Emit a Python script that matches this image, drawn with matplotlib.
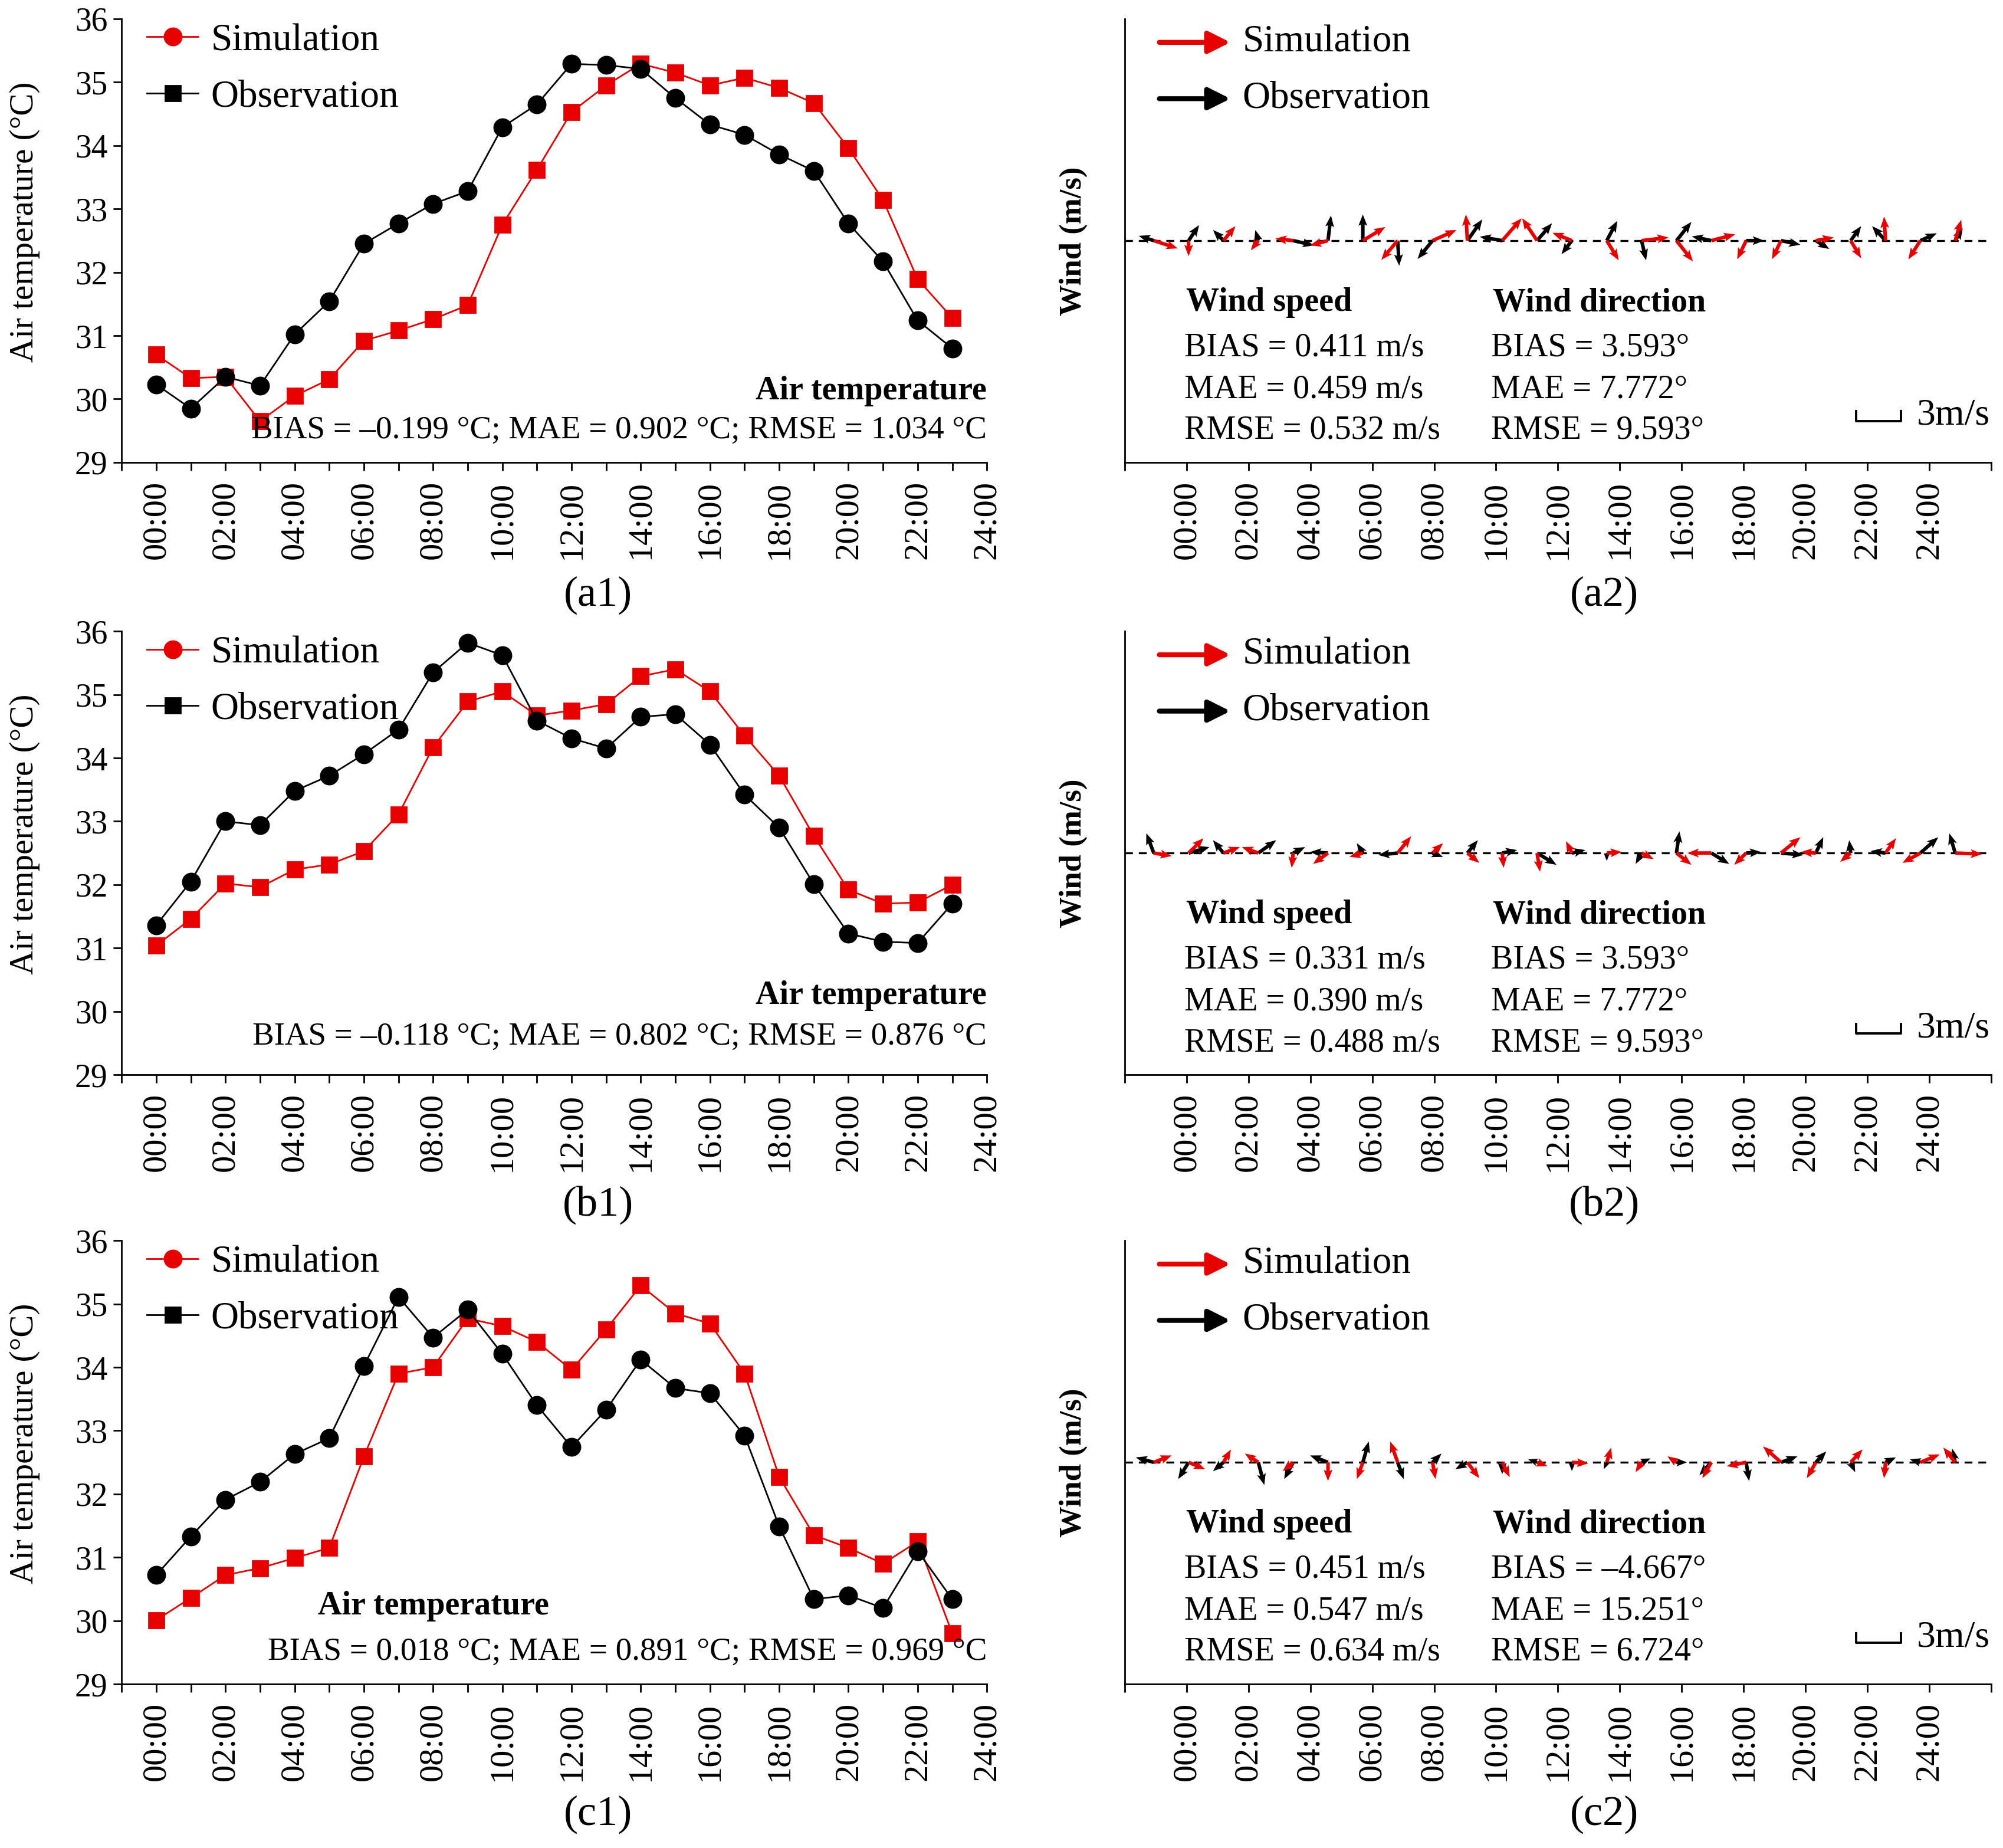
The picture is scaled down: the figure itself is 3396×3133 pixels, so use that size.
import numpy as np
import matplotlib.pyplot as plt
from matplotlib.lines import Line2D

plt.rcParams['font.family'] = ['Liberation Serif', 'DejaVu Serif']
plt.rcParams['axes.linewidth'] = 1.0

RED = '#e60000'

# ---- air temperature (deg C), hourly 00:00 - 23:00
hours = np.arange(24)
hour_labels = ['%02d:00' % h for h in range(0, 25, 2)]

sim_a = [30.7, 30.33, 30.35, 29.65, 30.05, 30.31, 30.92, 31.08, 31.26, 31.48, 32.75, 33.62,
         34.53, 34.95, 35.29, 35.15, 34.95, 35.07, 34.91, 34.67, 33.96, 33.14, 31.89, 31.28]
obs_a = [30.23, 29.85, 30.35, 30.21, 31.02, 31.54, 32.45, 32.77, 33.08, 33.28, 34.29, 34.65,
         35.29, 35.27, 35.21, 34.75, 34.33, 34.17, 33.86, 33.6, 32.77, 32.17, 31.24, 30.8]

sim_b = [31.04, 31.46, 32.02, 31.96, 32.24, 32.32, 32.53, 33.11, 34.17, 34.89, 35.05, 34.67,
         34.75, 34.85, 35.29, 35.4, 35.05, 34.35, 33.72, 32.77, 31.92, 31.7, 31.72, 32.0]
obs_b = [31.36, 32.05, 33.0, 32.94, 33.48, 33.72, 34.06, 34.45, 35.35, 35.82, 35.62, 34.59,
         34.31, 34.15, 34.65, 34.69, 34.21, 33.42, 32.9, 32.01, 31.23, 31.1, 31.08, 31.7]

sim_c = [30.01, 30.36, 30.72, 30.83, 30.99, 31.15, 32.59, 33.9, 34.0, 34.77, 34.65, 34.4,
         33.96, 34.6, 35.29, 34.85, 34.69, 33.9, 32.27, 31.35, 31.15, 30.9, 31.25, 29.8]
obs_c = [30.72, 31.33, 31.91, 32.19, 32.63, 32.88, 34.02, 35.11, 34.47, 34.91, 34.21, 33.4,
         32.74, 33.33, 34.12, 33.67, 33.59, 32.92, 31.49, 30.34, 30.4, 30.2, 31.1, 30.34]

# ---- wind vectors (m/s), u = east, v = north
obs_u_a = [-1.0, 0.7, -0.7, -0.2, 1.4, 0.2, 0.0, 0.1, -1.0, 1.0, -1.5, 1.0,
           -0.7, 0.7, 0.3, 1.0, -1.3, 1.2, 1.3, 0.9, 0.7, -0.9, 1.1, 0.5]
obs_v_a = [0.32, 1.04, 0.71, 0.71, -0.32, 1.68, 1.75, -1.68, -1.23, 1.42, 0.26, 1.16,
           -0.91, 1.32, -1.32, 1.25, 0.28, 0.0, -0.28, -0.56, 0.97, 0.97, 0.49, 0.83]
sim_u_a = [1.6, 0.0, 0.8, -0.5, -1.2, -1.2, 1.5, -1.1, 1.6, -0.1, 1.3, -1.0,
           -1.3, 0.8, 1.8, 1.1, 1.6, -0.6, -0.6, 1.2, 0.7, -0.1, -0.8, 0.4]
sim_v_a = [-0.52, -1.04, 0.97, -0.65, 0.13, -0.32, 0.91, -1.29, 0.71, 1.75, 1.49, 1.49,
           0.52, -1.32, 0.21, -1.39, 0.42, -1.25, -1.25, 0.21, -1.18, 1.6, -1.25, 1.39]

obs_u_b = [-0.5, 1.4, -0.7, 1.2, 0.8, -1.2, -0.4, -1.3, 0.7, 0.7, 1.0, 1.3,
           0.9, 0.0, -0.4, 0.2, 1.2, 1.0, 1.5, 0.5, -0.1, -1.0, 1.2, -0.4]
obs_v_b = [1.32, 0.4, 0.86, 0.86, 0.4, 0.07, 0.66, -0.13, -0.26, 0.86, 0.2, -0.79,
           0.2, -0.53, -0.73, 1.45, -0.73, 0.07, -0.13, 1.06, 0.86, 0.13, 1.06, 1.32]
sim_u_b = [1.2, 1.0, 1.1, -1.1, -0.1, -1.0, -0.9, 0.9, 0.7, 0.8, 0.1, 0.2,
           -0.4, 1.0, 0.8, 1.0, -1.6, -0.8, 1.3, -1.0, -0.7, 0.7, -1.2, 1.8]
sim_v_b = [-0.2, 0.99, 0.4, 0.4, -0.99, -0.73, -0.26, 1.12, 0.66, -0.66, -0.99, -1.25,
           0.79, 0.07, -0.4, -0.79, 0.0, -0.79, 1.06, 0.07, -0.59, 0.99, -0.66, -0.07]

obs_u_c = [-1.2, -0.7, -0.7, 0.4, -0.6, -1.2, 0.4, 0.4, 0.6, -0.8, 0.0, -0.6,
           0.0, -0.2, 0.6, 0.7, -0.8, 0.2, 1.1, 0.7, 0.3, 0.7, -0.7, -0.2]
obs_v_c = [0.33, -1.12, -0.59, -1.52, -1.12, 0.46, 1.39, -1.12, 0.59, -0.46, -0.79, 0.2,
           -0.59, -0.46, 0.26, 0.0, -0.86, -1.25, 0.4, 0.73, -0.66, 0.33, 0.2, 0.92]
sim_u_c = [1.2, 1.1, 0.5, -0.9, -0.7, 0.0, -0.4, -0.5, 0.2, 0.8, 0.5, 0.7,
           1.1, 0.3, -0.4, -0.6, -0.6, -1.3, -1.2, -0.6, 0.8, -0.1, 1.3, -0.8]
sim_v_c = [0.46, -0.46, 0.86, 0.59, -0.59, -1.25, -1.12, 1.39, -1.12, -1.06, -0.99, -0.26,
           -0.07, 0.99, -0.66, 0.4, -1.06, -0.26, 1.06, -1.06, 0.86, -1.06, 0.53, 0.99]

temp_stats = ['BIAS = \u20130.199 \u00b0C; MAE = 0.902 \u00b0C; RMSE = 1.034 \u00b0C',
              'BIAS = \u20130.118 \u00b0C; MAE = 0.802 \u00b0C; RMSE = 0.876 \u00b0C',
              'BIAS = 0.018 \u00b0C; MAE = 0.891 \u00b0C; RMSE = 0.969 \u00b0C']
speed_stats = [['BIAS = 0.411 m/s', 'MAE = 0.459 m/s', 'RMSE = 0.532 m/s'],
               ['BIAS = 0.331 m/s', 'MAE = 0.390 m/s', 'RMSE = 0.488 m/s'],
               ['BIAS = 0.451 m/s', 'MAE = 0.547 m/s', 'RMSE = 0.634 m/s']]
dir_stats = [['BIAS = 3.593\u00b0', 'MAE = 7.772\u00b0', 'RMSE = 9.593\u00b0'],
             ['BIAS = 3.593\u00b0', 'MAE = 7.772\u00b0', 'RMSE = 9.593\u00b0'],
             ['BIAS = \u20134.667\u00b0', 'MAE = 15.251\u00b0', 'RMSE = 6.724\u00b0']]
panel_names = [('(a1)', '(a2)'), ('(b1)', '(b2)'), ('(c1)', '(c2)')]

sims = [sim_a, sim_b, sim_c]
obss = [obs_a, obs_b, obs_c]
winds = [(obs_u_a, obs_v_a, sim_u_a, sim_v_a),
         (obs_u_b, obs_v_b, sim_u_b, sim_v_b),
         (obs_u_c, obs_v_c, sim_u_c, sim_v_c)]

# text placement of the "Air temperature" block (x, y of title, y of stats)
temp_title_pos = [(1.0, 0.161, 0.072), (1.0, 0.179, 0.086), (0.227, 0.176, 0.072)]

FW, FH = 16.98, 15.665
fig = plt.figure(figsize=(FW, FH), dpi=200)

row_bottoms = [0.7498, 0.4184, 0.0887]
row_h = 0.24
caption_y = [0.678, 0.348, 0.018]
QSCALE = 7.9  # m/s per inch
FS = 20.2

for r in range(3):
    # ---------- temperature panel
    ax = fig.add_axes([0.0607, row_bottoms[r], 0.432, row_h])
    ax.plot(hours, sims[r], color=RED, lw=1.0, marker='s', ms=9.5, mec=RED, mfc=RED)
    ax.plot(hours, obss[r], color='black', lw=1.0, marker='o', ms=10.5, mec='black', mfc='black')
    ax.set_xlim(-1, 24)
    ax.set_ylim(29, 36)
    ax.set_xticks(range(0, 25, 2))
    ax.set_xticklabels(hour_labels, rotation=90, fontsize=21)
    ax.set_xticks(range(-1, 24, 2), minor=True)
    ax.set_yticks(range(29, 37))
    ax.tick_params(axis='both', which='both', direction='out', length=5, width=1.0)
    ax.tick_params(axis='y', labelsize=20)
    ax.tick_params(axis='x', which='both', pad=6)
    ax.spines['top'].set_visible(False)
    ax.spines['right'].set_visible(False)
    ax.set_ylabel('Air temperature (\u00b0C)', fontsize=20.5)
    ax.yaxis.set_label_coords(-0.094, 0.542)

    handles = [Line2D([], [], color=RED, lw=1.0, marker='o', ms=10.5),
               Line2D([], [], color='black', lw=1.0, marker='s', ms=9.5)]
    ax.legend(handles, ['Simulation', 'Observation'], loc='upper left',
              bbox_to_anchor=(0.0295, 0.99), frameon=False, fontsize=23.5,
              handlelength=1.33, handletextpad=0.33, labelspacing=0.55,
              borderaxespad=0.0, borderpad=0.0)

    tx, ty1, ty2 = temp_title_pos[r]
    ha = 'right' if tx == 1.0 else 'left'
    ax.text(tx, ty1, 'Air temperature', transform=ax.transAxes, ha=ha, va='center',
            fontsize=FS, fontweight='bold')
    ax.text(1.0, ty2, temp_stats[r], transform=ax.transAxes, ha='right', va='center',
            fontsize=19.8)

    fig.text(0.2985, caption_y[r], panel_names[r][0], ha='center', va='center', fontsize=26)

    # ---------- wind panel
    ax_w = fig.add_axes([0.5615, row_bottoms[r], 0.4326, row_h])
    ou, ov, su, sv = winds[r]
    xpos = -1.06 + hours * 1.126
    ax_w.axhline(0, color='black', ls=(0, (4, 3)), lw=1.2, zorder=1)
    qkw = dict(angles='uv', scale_units='inches', scale=QSCALE, units='inches',
               width=0.03, headwidth=2.5, headlength=3.2, headaxislength=2.8, zorder=3)
    ax_w.quiver(xpos, np.zeros(24), ou, ov, color='black', **qkw)
    ax_w.quiver(xpos, np.zeros(24), su, sv, color=RED, **qkw)
    ax_w.set_xlim(-2, 26)
    ax_w.set_ylim(-1, 1)
    ax_w.set_xticks(range(-2, 27, 2))
    ax_w.set_xticklabels([''] + hour_labels + [''], rotation=90, fontsize=21)
    ax_w.set_yticks([])
    ax_w.tick_params(axis='x', direction='out', length=5, width=1.0, pad=6)
    ax_w.spines['top'].set_visible(False)
    ax_w.spines['right'].set_visible(False)
    ax_w.set_ylabel('Wind (m/s)', fontsize=19, fontweight='bold')
    ax_w.yaxis.set_label_coords(-0.043, 0.499)

    # legend arrows
    for yy, col, lab in [(0.947, RED, 'Simulation'), (0.82, 'black', 'Observation')]:
        ax_w.annotate('', xy=(0.122, yy), xytext=(0.04, yy), xycoords='axes fraction',
                      arrowprops=dict(arrowstyle='-|>', color=col, lw=3, mutation_scale=28,
                                      shrinkA=0, shrinkB=0))
        ax_w.text(0.136, yy, lab, transform=ax_w.transAxes, ha='left', va='center', fontsize=23.5)

    # statistics
    ax_w.text(0.071, 0.36, 'Wind speed', transform=ax_w.transAxes, ha='left', va='center',
              fontsize=FS, fontweight='bold')
    ax_w.text(0.425, 0.36, 'Wind direction', transform=ax_w.transAxes, ha='left', va='center',
              fontsize=FS, fontweight='bold')
    for k, yy in enumerate([0.259, 0.164, 0.072]):
        ax_w.text(0.069, yy, speed_stats[r][k], transform=ax_w.transAxes, ha='left',
                  va='center', fontsize=FS)
        ax_w.text(0.423, yy, dir_stats[r][k], transform=ax_w.transAxes, ha='left',
                  va='center', fontsize=FS)

    # 3 m/s reference bar
    bar = 3.0 / QSCALE / (0.4326 * FW)
    bx, by = 0.844, 0.093
    ax_w.plot([bx, bx, bx + bar, bx + bar], [by + 0.022, by, by, by + 0.022],
              transform=ax_w.transAxes, color='black', lw=1.4, clip_on=False)
    ax_w.text(0.914, 0.105, '3m/s', transform=ax_w.transAxes, ha='left', va='center', fontsize=23)

    fig.text(0.801, caption_y[r], panel_names[r][1], ha='center', va='center', fontsize=26)

fig.savefig('out.png', dpi=200)
